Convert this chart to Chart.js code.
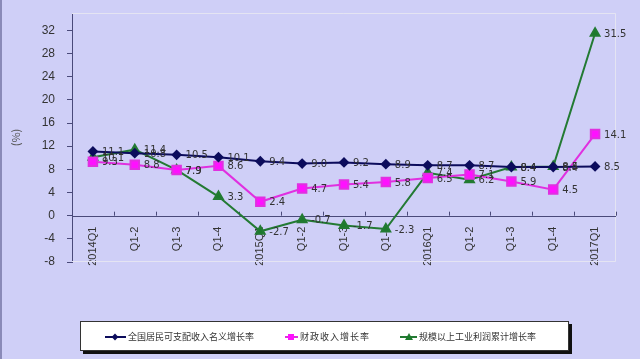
<!DOCTYPE html>
<html>
<head>
<meta charset="utf-8">
<script src="https://cdn.jsdelivr.net/npm/chart.js@4/dist/chart.umd.min.js"></script>
<style>
  html, body { margin: 0; padding: 0; }
  body { width: 640px; height: 359px; background: #cfcff7; position: relative; overflow: hidden; }
  #edge { position: absolute; left: 0; top: 0; width: 2px; height: 359px; background: #8a8ab8; }
  #wrap { position: absolute; left: 0; top: 0; width: 640px; height: 359px; }
  #legend {
    position: absolute; left: 80px; top: 321px; width: 487px; height: 28px;
    background: #fff; border: 1px solid #333; box-shadow: 3px 3px 0 #111;
    font-family: "Noto Sans CJK SC", sans-serif; font-size: 9px; color: #333;
  }
  .item { position: absolute; top: 8px; display: flex; align-items: center; }
  .key { position: relative; height: 10px; margin-right: 2px; }
  .key .ln { position: absolute; left: 0; top: 4px; height: 2px; width: 100%; }
  .key .mk { position: absolute; top: 2px; width: 6px; height: 6px; }
</style>
</head>
<body>
<div id="edge"></div>
<div id="wrap"><canvas id="chart" width="640" height="359"></canvas></div>
<div id="legend">
  <div class="item" style="left:24px"><span class="key" style="width:21px"><span class="ln" style="background:#0c0c5c"></span><span class="mk" style="left:7px;background:#0c0c5c;transform:rotate(45deg) scale(0.8)"></span></span>全国居民可支配收入名义增长率</div>
  <div class="item" style="left:204px"><span class="key" style="width:13px"><span class="ln" style="background:#e030e0"></span><span class="mk" style="left:3px;background:#ff10ff"></span></span><span style="letter-spacing:1px">财政收入增长率</span></div>
  <div class="item" style="left:319px"><span class="key" style="width:17px"><span class="ln" style="background:#237a33"></span><span class="mk" style="width:0;height:0;background:none;border-left:4px solid transparent;border-right:4px solid transparent;border-bottom:7px solid #1d7a2d;top:1px;left:5px"></span></span>规模以上工业利润累计增长率</div>
</div>
<script>
const categories = ['2014Q1', 'Q1-2', 'Q1-3', 'Q1-4', '2015Q1', 'Q1-2', 'Q1-3', 'Q1-4', '2016Q1', 'Q1-2', 'Q1-3', 'Q1-4', '2017Q1'];
const incomeGrowth = [11.1, 10.8, 10.5, 10.1, 9.4, 9.0, 9.2, 8.9, 8.7, 8.7, 8.4, 8.4, 8.5];
const fiscalGrowth = [9.3, 8.8, 7.9, 8.6, 2.4, 4.7, 5.4, 5.8, 6.5, 7.1, 5.9, 4.5, 14.1];
const profitGrowth = [10.1, 11.4, 7.9, 3.3, -2.7, -0.7, -1.7, -2.3, 7.4, 6.2, 8.4, 8.5, 31.5];
const seriesNames = ['全国居民可支配收入名义增长率', '财政收入增长率', '规模以上工业利润累计增长率'];

// labels next to each point
const pointLabels = {
  id: 'pointLabels',
  afterDatasetsDraw(chart) {
    const ctx = chart.ctx;
    ctx.save();
    ctx.font = '10px "DejaVu Sans", sans-serif';
    ctx.fillStyle = '#333';
    ctx.textAlign = 'left';
    ctx.textBaseline = 'middle';
    chart.data.datasets.forEach((ds, i) => {
      chart.getDatasetMeta(i).data.forEach((pt, j) => {
        ctx.fillText(ds.data[j].toFixed(1), pt.x + 9, pt.y + 1);
      });
    });
    ctx.restore();
  }
};

// faint frame + small ticks between categories on the zero line
const frame = {
  id: 'frame',
  beforeDatasetsDraw(chart) {
    const { ctx, chartArea: a, scales } = chart;
    ctx.save();
    ctx.strokeStyle = '#e4e4f2';
    ctx.lineWidth = 1;
    ctx.beginPath();
    ctx.moveTo(a.left, a.top + 0.5);
    ctx.lineTo(a.right - 0.5, a.top + 0.5);
    ctx.lineTo(a.right - 0.5, a.bottom - 0.5);
    ctx.lineTo(a.left, a.bottom - 0.5);
    ctx.stroke();
    const y0 = scales.y.getPixelForValue(0);
    const step = scales.x.getPixelForValue(1) - scales.x.getPixelForValue(0);
    ctx.strokeStyle = '#4a4a7a';
    ctx.beginPath();
    for (let i = 0; i <= categories.length; i++) {
      const x = Math.round(scales.x.getPixelForValue(i) - step / 2) + 0.5;
      ctx.moveTo(x, y0);
      ctx.lineTo(x, y0 - 4);
    }
    ctx.moveTo(a.left, Math.round(y0) + 0.5);
    ctx.lineTo(a.right, Math.round(y0) + 0.5);
    ctx.stroke();
    ctx.restore();
  }
};

new Chart(document.getElementById('chart'), {
  type: 'line',
  data: {
    labels: categories,
    datasets: [
      { label: seriesNames[0], data: incomeGrowth, borderColor: '#0c0c5c', backgroundColor: '#0c0c5c',
        borderWidth: 2, pointStyle: 'rectRot', pointRadius: 4, tension: 0 },
      { label: seriesNames[1], data: fiscalGrowth, borderColor: '#e030e0', backgroundColor: '#ff10ff',
        borderWidth: 2, pointStyle: 'rect', pointRadius: 6, tension: 0 },
      { label: seriesNames[2], data: profitGrowth, borderColor: '#237a33', backgroundColor: '#1d7a2d',
        borderWidth: 2, pointStyle: 'triangle', pointRadius: 5, tension: 0 }
    ]
  },
  options: {
    responsive: false,
    animation: false,
    layout: { padding: { left: 9, right: 24, top: 13, bottom: 97 } },
    plugins: { legend: { display: false }, tooltip: { enabled: false } },
    scales: {
      x: {
        offset: true,
        position: { y: 0 },
        border: { display: false },
        grid: { display: false },
        afterFit(scale) { scale.paddingTop = 0; scale.paddingBottom = 0; },
        ticks: {
          color: '#333', font: { size: 11, family: 'Arial, "Liberation Sans", sans-serif' },
          minRotation: 90, maxRotation: 90, padding: 3, autoSkip: false
        }
      },
      y: {
        min: -8, max: 35,
        afterBuildTicks(scale) { scale.ticks = scale.ticks.filter(t => t.value % 4 === 0); },
        afterFit(scale) { scale.width = 63; scale.paddingTop = 0; scale.paddingBottom = 0; },
        border: { display: true, color: '#4a4a7a', width: 1 },
        grid: { drawOnChartArea: false, drawTicks: true, tickLength: 5, color: '#4a4a7a' },
        ticks: { stepSize: 4, color: '#333', padding: 12,
                 font: { size: 12, family: 'Arial, "Liberation Sans", sans-serif' } },
        title: { display: true, text: '(%)', color: '#555', padding: 0,
                 font: { size: 11, family: '"Noto Sans CJK SC", sans-serif' } }
      }
    }
  },
  plugins: [frame, pointLabels]
});
</script>
</body>
</html>
